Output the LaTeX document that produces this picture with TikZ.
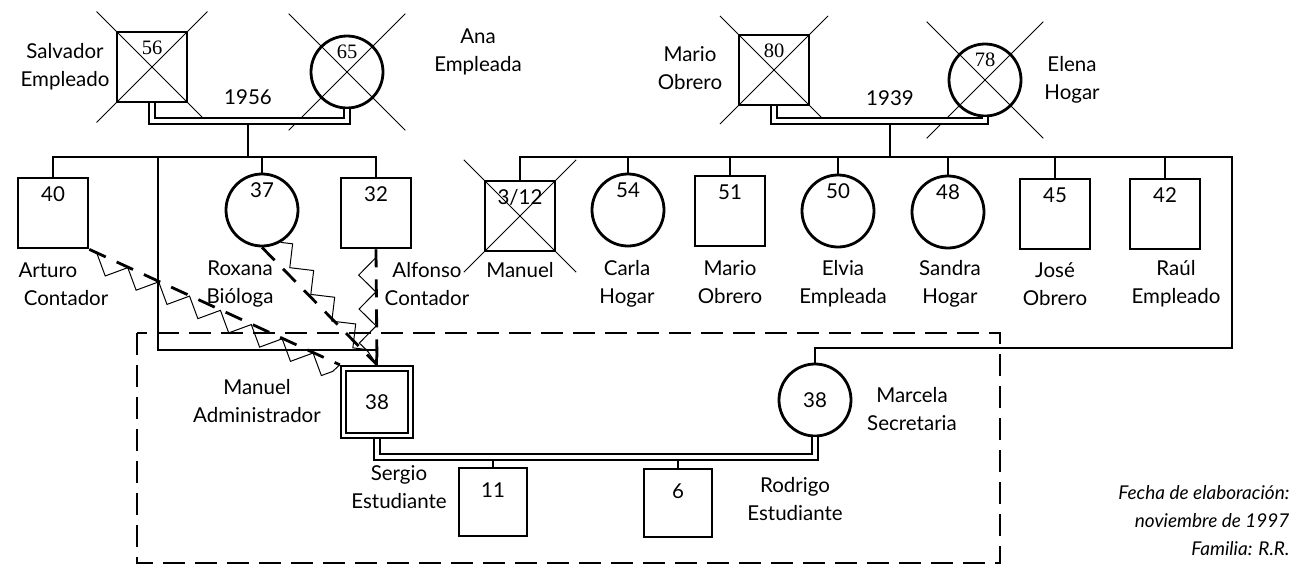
\documentclass[tikz,border=0pt]{standalone}
\usepackage{fontspec}
\setmainfont{Lato}
\newfontfamily\oldnum{Liberation Serif}
\usetikzlibrary{decorations.pathmorphing}
\begin{document}
\begin{tikzpicture}[x=1pt,y=-1pt,font=\fontsize{20.5}{28}\selectfont]
\tikzstyle{male}=[draw,line width=2.8pt,minimum size=70pt,inner sep=0pt]
\tikzstyle{female}=[draw,shape=circle,line width=2.8pt,minimum size=72pt,inner sep=0pt]
\tikzstyle{index}=[draw,double,double distance=3pt,line width=2.2pt,minimum size=67pt,outer sep=3.7pt]
\tikzstyle{age}=[anchor=north,inner sep=0pt,yshift=-10pt]
\tikzstyle{who}=[align=center]
\tikzstyle{dead}=[line width=1pt]
\tikzstyle{child}=[line width=2.4pt]
\tikzstyle{couple}=[double,double distance=4pt,line width=1.8pt]
\tikzstyle{distant}=[line width=2.8pt,dash pattern=on 18pt off 12pt]
\tikzstyle{conflict}=[line width=1pt,decorate,decoration={zigzag,segment length=34pt,amplitude=8.5pt}]
\tikzstyle{household}=[line width=2.4pt,dash pattern=on 22pt off 10pt]
\useasboundingbox (0,0) rectangle (1309,581);

\path (152,67) node[male,label={[age]north:\oldnum 56}](salvador){} (347,72) node[female,label={[age]north:\oldnum 65}](ana){};
\draw[dead,shorten <=-27pt,shorten >=-27pt] (salvador.north west) -- (salvador.south east);
\draw[dead,shorten <=-27pt,shorten >=-27pt] (salvador.north east) -- (salvador.south west);
\draw[dead,shorten <=-45pt,shorten >=-45pt] (ana.north west) -- (ana.south east);
\draw[dead,shorten <=-45pt,shorten >=-45pt] (ana.north east) -- (ana.south west);
\node[who] (salvadorl) at (65,67) {Salvador\\Empleado};
\node[who] (anal) at (478,52) {Ana\\Empleada};
\coordinate (m1) at (248,121);
\coordinate (s1) at (248,157);
\draw[couple] (salvador.south) |- (m1) -| (ana.south);
\node (y1956) at (248,97) {1956};
\draw[child,shorten <=3.8pt] (m1) -- (s1);

\path (53,213) node[male,label={[age]north:40}](arturo){} (262,210) node[female,label={[age]north:37}](roxana){}
  (376,213) node[male,label={[age]north:32}](alfonso){} (377,402) node[index](manuel){38};
\coordinate (mp) at (158,350);
\draw[child] (s1) -| (arturo.north);
\draw[child] (s1) -| (roxana.north);
\draw[child] (s1) -| (alfonso.north);
\draw[child] (s1) -| (mp) -| (manuel.north);
\node[align=left,anchor=west] (arturol) at (15,284) {Arturo\\\ Contador};
\node[who] (roxanal) at (240,284) {Roxana\\Bióloga};
\node[who] (alfonsol) at (427,284) {Alfonso\\Contador};
\node[who] (manuell) at (257,401) {Manuel\\Administrador};

\draw[distant] (arturo.south east) -- (manuel.north west);
\draw[conflict,decoration={raise=-9pt}] (arturo.south east) -- (manuel.north west);
\draw[distant] (roxana.south) -- (manuel.north);
\draw[conflict] (roxana.-60) -- (manuel.north);
\draw[distant] (alfonso.south) -- (manuel.north);
\draw[conflict,decoration={raise=-9pt}] (alfonso.south) -- (manuel.north);

\path (774,70) node[male,label={[age]north:\oldnum 80}](mario){} (985,80) node[female,label={[age]north:\oldnum 78}](elena){};
\draw[dead,shorten <=-25pt,shorten >=-25pt] (mario.north west) -- (mario.south east);
\draw[dead,shorten <=-25pt,shorten >=-25pt] (mario.north east) -- (mario.south west);
\draw[dead,shorten <=-45pt,shorten >=-45pt] (elena.north west) -- (elena.south east);
\draw[dead,shorten <=-45pt,shorten >=-45pt] (elena.north east) -- (elena.south west);
\node[who] (mariol) at (690,68) {Mario\\Obrero};
\node[who] (elenal) at (1072,80) {Elena\\Hogar};
\coordinate (m2) at (890,121);
\coordinate (s2) at (890,157);
\draw[couple] (mario.south) |- (m2) -| (elena.south);
\node (y1939) at (890,98) {1939};
\draw[child,shorten <=3.8pt] (m2) -- (s2);

\path (520,216) node[male,label={[age]north:3/12}](manuelm){} (628,210) node[female,label={[age]north:54}](carla){}
  (730,211) node[male,label={[age]north:51}](mariob){} (838,211) node[female,label={[age]north:50}](elvia){}
  (948,212) node[female,label={[age]north:48}](sandra){} (1055,214) node[male,label={[age]north:45}](jose){}
  (1165,214) node[male,label={[age]north:42}](raul){} (815,400) node[female](marcela){38};
\draw[dead,shorten <=-28pt,shorten >=-28pt] (manuelm.north west) -- (manuelm.south east);
\draw[dead,shorten <=-28pt,shorten >=-28pt] (manuelm.north east) -- (manuelm.south west);
\coordinate (mc) at (1232,348);
\draw[child] (s2) -| (manuelm.north);
\draw[child] (s2) -| (carla.north);
\draw[child] (s2) -| (mariob.north);
\draw[child] (s2) -| (elvia.north);
\draw[child] (s2) -| (sandra.north);
\draw[child] (s2) -| (jose.north);
\draw[child] (s2) -| (raul.north);
\draw[child] (s2) -| (mc) -| (marcela.north);
\node[who] (manuelml) at (520,270) {Manuel};
\node[who] (carlal) at (627,284) {Carla\\Hogar};
\node[who] (mariobl) at (730,282) {Mario\\Obrero};
\node[who] (elvial) at (843,284) {Elvia\\Empleada};
\node[who] (sandral) at (950,284) {Sandra\\Hogar};
\node[who] (josel) at (1055,284) {José\\Obrero};
\node[who] (raull) at (1176,284) {Raúl\\Empleado};
\node[who] (marcelal) at (912,409) {Marcela\\Secretaria};

\coordinate (m3) at (590,457);
\draw[couple] (manuel.south) |- (m3) -| (marcela.south);
\path (493,502) node[male,minimum size=68pt,label={[age,yshift=-6pt]north:11}](sergio){}
  (678,503) node[male,minimum size=68pt,label={[age,yshift=-6pt]north:6}](rodrigo){};
\draw[child,shorten <=3.8pt] (sergio.north |- m3) -- (sergio.north);
\draw[child,shorten <=3.8pt] (rodrigo.north |- m3) -- (rodrigo.north);
\node[who] (sergiol) at (399,487) {Sergio\\Estudiante};
\node[who] (rodrigol) at (795,499) {Rodrigo\\Estudiante};

\draw[household] (137,333) rectangle (1000,563);
\node[anchor=east,align=right,font=\fontsize{19}{28}\selectfont\itshape] (fecha) at (1293,521) {Fecha de elaboración:\\noviembre de 1997\\Familia: R.R.};
\end{tikzpicture}
\end{document}
